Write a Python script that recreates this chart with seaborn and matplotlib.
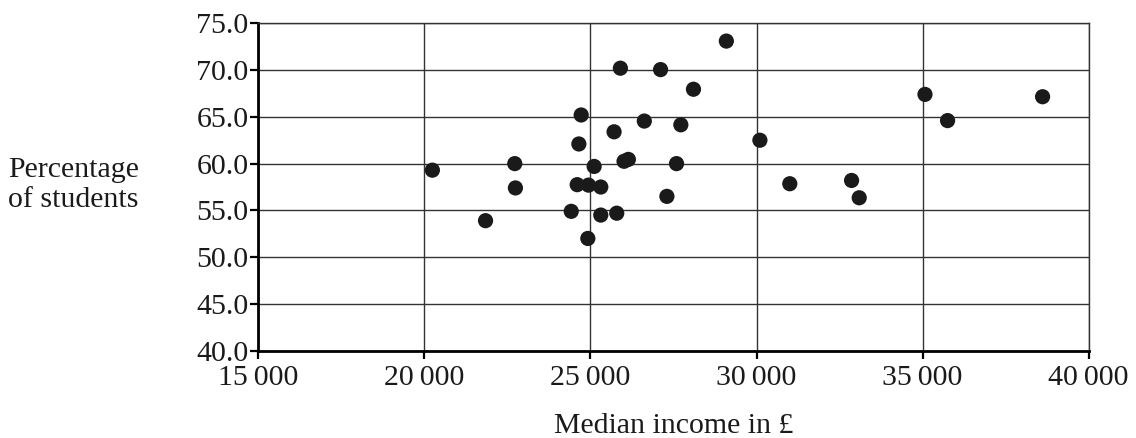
import matplotlib
matplotlib.use('Agg')
import matplotlib.pyplot as plt
import matplotlib.ticker as mticker
import seaborn as sns
import pandas as pd

# Median income (£) and percentage of students
income = [20240, 21840, 22720, 22740, 24420, 24600, 24650, 24720, 24920, 24940,
          25110, 25310, 25310, 25710, 25790, 25900, 26010, 26140, 26620, 27110,
          27300, 27590, 27720, 28100, 29090, 30100, 31000, 32860, 33090, 35070,
          35750, 38610]
percent = [59.3, 53.9, 60.0, 57.4, 54.9, 57.75, 62.1, 65.2, 52.0, 57.7,
           59.7, 57.5, 54.5, 63.4, 54.7, 70.2, 60.25, 60.45, 64.55, 70.05,
           56.5, 60.0, 64.15, 67.95, 73.1, 62.5, 57.85, 58.2, 56.35, 67.4,
           64.6, 67.15]

df = pd.DataFrame({'income': income, 'percent': percent})

sns.set_style('white')
plt.rcParams['font.family'] = ['Liberation Serif', 'DejaVu Serif']

fig = plt.figure(figsize=(11.36, 4.38), dpi=100)
ax = fig.add_axes([0.2274, 0.1993, 0.731, 0.7475])

sns.scatterplot(data=df, x='income', y='percent', ax=ax, color='#1a1a1a',
                s=120, edgecolor='none', zorder=3)

ax.set_xlim(15000, 40000)
ax.set_ylim(40, 75)
ax.set_xticks(range(15000, 40001, 5000))
ax.set_yticks(range(40, 76, 5))
ax.xaxis.set_major_formatter(mticker.FuncFormatter(
    lambda v, p: f'{int(v) // 1000}\u2009{int(v) % 1000:03d}'))
ax.yaxis.set_major_formatter(mticker.FormatStrFormatter('%.1f'))

ax.grid(True, color='#333333', linewidth=1.0)
ax.set_axisbelow(True)
for side in ['top', 'right']:
    ax.spines[side].set_color('#333333')
    ax.spines[side].set_linewidth(1.0)
for side in ['left', 'bottom']:
    ax.spines[side].set_color('black')
    ax.spines[side].set_linewidth(2.0)

ax.tick_params(axis='both', direction='out', length=6, width=1.6,
               color='black', labelsize=21.5, labelcolor='#1a1a1a')
ax.tick_params(axis='y', pad=1)
ax.tick_params(axis='x', pad=4)
ax.tick_params(bottom=True, left=True)

ax.set_xlabel('Median income in £', fontsize=21.5, color='#1a1a1a', labelpad=16)
ax.set_ylabel('')
fig.text(8 / 1136, 1 - 185 / 438, 'Percentage\nof students', fontsize=21.5,
         color='#1a1a1a', ha='left', va='center', linespacing=1.2)

fig.savefig('out.png', dpi=100)
